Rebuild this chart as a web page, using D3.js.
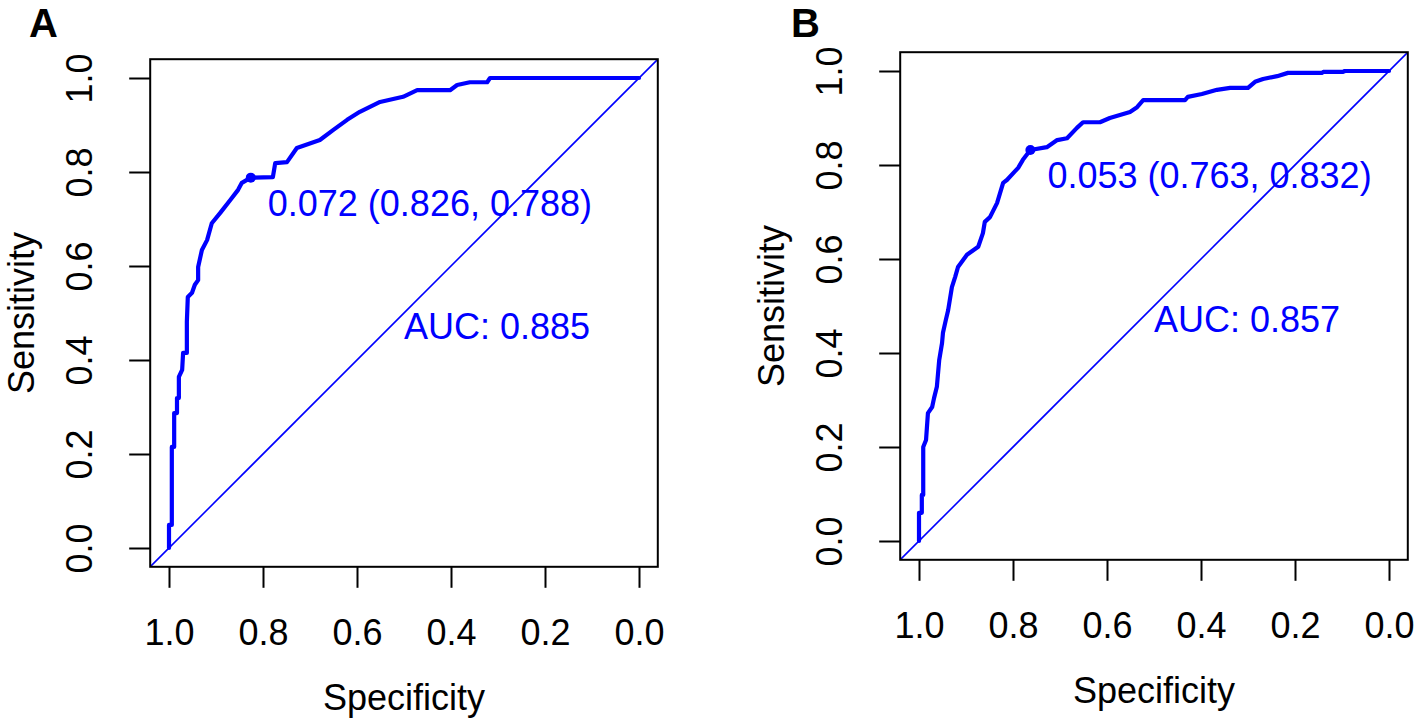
<!DOCTYPE html>
<html>
<head>
<meta charset="utf-8">
<script src="https://cdn.jsdelivr.net/npm/d3@7"></script>
<style>
  html, body { margin: 0; padding: 0; background: #ffffff; }
  svg { display: block; }
  text { font-family: "Liberation Sans", Arial, sans-serif; }
</style>
</head>
<body>
<svg id="chart" width="1416" height="724"></svg>
<script>
// ---------- data ----------
const tickValues = [1.0, 0.8, 0.6, 0.4, 0.2, 0.0];
const panelLabels = ["A", "B"];
const xTitle = "Specificity";
const yTitle = "Sensitivity";

// Panel A ROC curve (specificity, sensitivity)
const specA = [1.000, 1.000, 0.994, 0.994, 0.989, 0.989, 0.983, 0.983, 0.979, 0.979, 0.972, 0.970, 0.962, 0.962,
  0.960, 0.951, 0.945, 0.938, 0.938, 0.930, 0.919, 0.909, 0.891, 0.870, 0.853, 0.845, 0.826, 0.779, 0.774,
  0.749, 0.728, 0.679, 0.651, 0.621, 0.594, 0.551, 0.502, 0.472, 0.402, 0.387, 0.360, 0.323, 0.317, 0.000];
const sensA = [0.000, 0.049, 0.049, 0.215, 0.215, 0.287, 0.287, 0.319, 0.319, 0.364, 0.379, 0.415, 0.415, 0.481,
  0.534, 0.543, 0.560, 0.570, 0.598, 0.634, 0.655, 0.691, 0.713, 0.740, 0.762, 0.777, 0.788, 0.789, 0.819,
  0.821, 0.851, 0.868, 0.889, 0.911, 0.928, 0.949, 0.960, 0.974, 0.974, 0.985, 0.991, 0.991, 1.000, 1.000];

// Panel B ROC curve (specificity, sensitivity)
const specB = [1.000, 1.000, 0.994, 0.994, 0.991, 0.991, 0.985, 0.981, 0.972, 0.968, 0.962, 0.957, 0.951, 0.949,
  0.943, 0.938, 0.930, 0.923, 0.917, 0.898, 0.874, 0.864, 0.860, 0.849, 0.834, 0.821, 0.813, 0.789, 0.779,
  0.763, 0.728, 0.706, 0.685, 0.664, 0.651, 0.615, 0.594, 0.551, 0.536, 0.523, 0.434, 0.428, 0.398, 0.366,
  0.338, 0.300, 0.285, 0.268, 0.238, 0.215, 0.143, 0.140, 0.098, 0.094, 0.000];
const sensB = [0.000, 0.060, 0.060, 0.098, 0.098, 0.200, 0.215, 0.272, 0.285, 0.304, 0.328, 0.385, 0.421, 0.443,
  0.470, 0.491, 0.540, 0.562, 0.583, 0.609, 0.626, 0.655, 0.679, 0.689, 0.719, 0.762, 0.768, 0.794, 0.811,
  0.832, 0.838, 0.853, 0.857, 0.879, 0.891, 0.891, 0.900, 0.913, 0.923, 0.938, 0.938, 0.945, 0.951, 0.960,
  0.964, 0.964, 0.977, 0.983, 0.989, 0.996, 0.996, 0.998, 0.998, 1.000, 1.000];

// best thresholds: [threshold, specificity, sensitivity]
const thresholdA = [0.072, 0.826, 0.788];
const thresholdB = [0.053, 0.763, 0.832];
const aucValues = [0.885, 0.857];

// ---------- drawing ----------
const svg = d3.select("#chart");
const BLUE = "#0000ff";
const FONT = 36;

const panels = [
  { label: panelLabels[0], spec: specA, sens: sensA, thr: thresholdA, auc: aucValues[0],
    x0: 150.2, y0: 59.2, size: 507.6, labelX: 29, labelY: 37 },
  { label: panelLabels[1], spec: specB, sens: sensB, thr: thresholdB, auc: aucValues[1],
    x0: 900.2, y0: 52.2, size: 507.6, labelX: 791, labelY: 37 }
];

panels.forEach((p, i) => {
  const x = d3.scaleLinear().domain([1.04, -0.04]).range([p.x0, p.x0 + p.size]);
  const y = d3.scaleLinear().domain([-0.04, 1.04]).range([p.y0 + p.size, p.y0]);
  const g = svg.append("g");

  const clipId = "clip" + i;
  svg.append("defs").append("clipPath").attr("id", clipId)
    .append("rect").attr("x", p.x0).attr("y", p.y0).attr("width", p.size).attr("height", p.size);

  // diagonal reference line
  g.append("line")
    .attr("clip-path", `url(#${clipId})`)
    .attr("x1", x(1.04)).attr("y1", y(-0.04))
    .attr("x2", x(-0.04)).attr("y2", y(1.04))
    .attr("stroke", BLUE).attr("stroke-width", 1.6);

  // ROC curve
  const pts = p.spec.map((s, k) => [s, p.sens[k]]);
  g.append("path")
    .datum(pts)
    .attr("fill", "none")
    .attr("stroke", BLUE)
    .attr("stroke-width", 4.2)
    .attr("stroke-linejoin", "round")
    .attr("stroke-linecap", "round")
    .attr("d", d3.line().x(d => x(d[0])).y(d => y(d[1])));

  // threshold point + label
  const px = x(p.thr[1]), py = y(p.thr[2]);
  g.append("circle").attr("cx", px).attr("cy", py).attr("r", 5).attr("fill", BLUE);
  g.append("text")
    .attr("x", px + 17).attr("y", py + 38)
    .attr("fill", BLUE).attr("font-size", FONT)
    .text(`${p.thr[0].toFixed(3)} (${p.thr[1].toFixed(3)}, ${p.thr[2].toFixed(3)})`);

  // AUC label
  g.append("text")
    .attr("x", x(0.5)).attr("y", y(0.5) + 26)
    .attr("fill", BLUE).attr("font-size", FONT)
    .text(`AUC: ${p.auc.toFixed(3)}`);

  // box
  g.append("rect")
    .attr("x", p.x0).attr("y", p.y0).attr("width", p.size).attr("height", p.size)
    .attr("fill", "none").attr("stroke", "#000").attr("stroke-width", 2);

  // x axis
  const xa = g.append("g")
    .attr("transform", `translate(0,${p.y0 + p.size})`)
    .call(d3.axisBottom(x).tickValues(tickValues).tickFormat(d3.format(".1f")).tickSize(21).tickPadding(0));
  xa.select(".domain").remove();
  xa.selectAll(".tick line").attr("stroke", "#000").attr("stroke-width", 2);
  xa.selectAll(".tick text")
    .attr("font-size", FONT).attr("font-family", "Liberation Sans, Arial, sans-serif")
    .attr("fill", "#000").attr("dy", null).attr("y", 78);

  // y axis
  const ya = g.append("g")
    .attr("transform", `translate(${p.x0},0)`)
    .call(d3.axisLeft(y).tickValues(tickValues).tickFormat(d3.format(".1f")).tickSize(21).tickPadding(0));
  ya.select(".domain").remove();
  ya.selectAll(".tick line").attr("stroke", "#000").attr("stroke-width", 2);
  ya.selectAll(".tick text")
    .attr("font-size", FONT).attr("font-family", "Liberation Sans, Arial, sans-serif")
    .attr("fill", "#000").attr("text-anchor", "middle")
    .attr("x", null).attr("dy", null).attr("y", 0)
    .attr("transform", "translate(-58,0) rotate(-90)");

  // axis titles
  g.append("text")
    .attr("x", p.x0 + p.size / 2).attr("y", p.y0 + p.size + 143)
    .attr("text-anchor", "middle").attr("font-size", FONT).attr("fill", "#000")
    .text(xTitle);
  g.append("text")
    .attr("transform", `translate(${p.x0 - 116},${p.y0 + p.size / 2}) rotate(-90)`)
    .attr("text-anchor", "middle").attr("font-size", FONT).attr("fill", "#000")
    .text(yTitle);

  // panel label
  g.append("text")
    .attr("x", p.labelX).attr("y", p.labelY)
    .attr("font-size", 40).attr("font-weight", "bold").attr("fill", "#000")
    .text(p.label);
});
</script>
</body>
</html>
